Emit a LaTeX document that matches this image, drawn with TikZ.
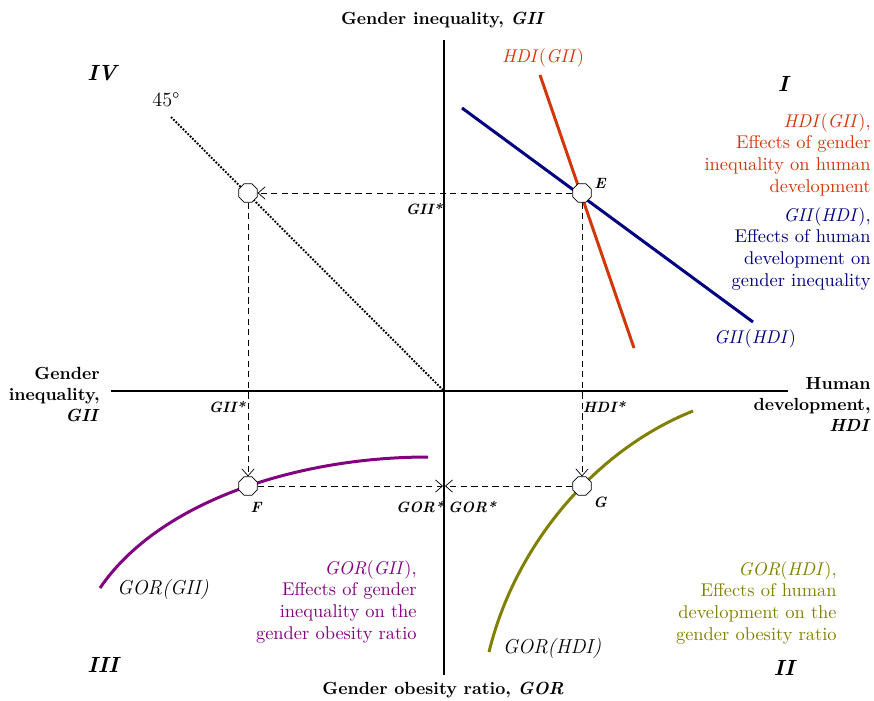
\documentclass[tikz,border=0pt]{standalone}
\usepackage{tikz}
\usetikzlibrary{shapes.geometric,arrows.meta}
\definecolor{hdired}{RGB}{210,55,10}
\definecolor{giiblue}{RGB}{0,0,128}
\definecolor{gorpurple}{RGB}{128,0,128}
\definecolor{gorolive}{RGB}{128,128,0}

\begin{document}
\begin{tikzpicture}[x=0.02cm,y=-0.02cm,font=\fontsize{10.5}{12.3}\selectfont,
	eqpt/.style={draw,fill=white,regular polygon,regular polygon sides=8,minimum size=0.4cm,inner sep=0pt},
	guide/.style={dash pattern=on 3.5pt off 2.5pt,-{Straight Barb[length=4pt,width=7pt]}},
	axisline/.style={line width=1.4pt},
	curveline/.style={line width=1.7pt},
	starlbl/.style={font=\fontsize{8.5}{10}\selectfont\bfseries\itshape},
	quadlbl/.style={font=\fontsize{12.5}{14}\selectfont\bfseries\itshape},
	note/.style={align=right,anchor=north east,inner sep=0pt}]
	\useasboundingbox (0,0) rectangle (874,700);
	% axes
	\draw[axisline] (444,40) -- (444,675);
	\draw[axisline] (111,391) -- (788,391);
	\node[font=\bfseries] (ytop) at (443,20) {Gender inequality, \textit{GII}};
	\node[font=\bfseries] (ybot) at (443,690) {Gender obesity ratio, \textit{GOR}};
	\node[font=\bfseries,note] (xleft) at (100,367) {Gender\\inequality,\\\textit{GII}};
	\node[font=\bfseries,note] (xright) at (871,377) {Human\\development,\\\textit{HDI}};
	% quadrants
	\node[quadlbl] (q4) at (102,73) {IV};
	\node[quadlbl] (q1) at (783,84) {I};
	\node[quadlbl] (q3) at (103,665) {III};
	\node[quadlbl] (q2) at (784,668) {II};
	% curves
	\draw[line width=1.1pt,dash pattern=on 1pt off 0.9pt] (171,117) -- (444,391);
	\node[font=\fontsize{11.5}{13}\selectfont] (deg) at (166,100) {45\textdegree};
	\draw[curveline,hdired] (540,75) -- (634,348);
	\draw[curveline,giiblue] (462,108) -- (753,322);
	\draw[curveline,gorpurple] (100,588) .. controls (160,500) and (300,457) .. (428,457);
	\draw[curveline,gorolive] (489,652) .. controls (515,545) and (595,450) .. (693,411);
	\node[hdired] (hdiname) at (543,58) {\textit{HDI}(\textit{GII})};
	\node[giiblue] (giiname) at (755,339) {\textit{GII}(\textit{HDI})};
	\node[font=\fontsize{11.5}{13}\selectfont] (gorgii) at (163,589) {\textit{GOR(GII)}};
	\node[font=\fontsize{11.5}{13}\selectfont] (gorhdi) at (552,648) {\textit{GOR(HDI)}};
	% notes
	\node[note,hdired] (redtxt) at (871,113) {\textit{HDI}(\textit{GII}),\\Effects of gender\\inequality on human\\development};
	\node[note,giiblue] (bluetxt) at (871,207) {\textit{GII}(\textit{HDI}),\\Effects of human\\development on\\gender inequality};
	\node[note,gorpurple] (purpletxt) at (417,560) {\textit{GOR}(\textit{GII}),\\Effects of gender\\inequality on the\\gender obesity ratio};
	\node[note,gorolive] (olivetxt) at (837,561) {\textit{GOR}(\textit{HDI}),\\Effects of human\\development on the\\gender obesity ratio};
	% points
	\node[eqpt] (E) at (582,193) {};
	\node[eqpt] (P) at (248,193) {};
	\node[eqpt] (F) at (248,486) {};
	\node[eqpt] (G) at (582,486) {};
	\coordinate (gorL) at (443,486);
	\coordinate (gorR) at (445,486);
	\draw[guide] (E) -- (P);
	\draw[guide] (P) -- (F);
	\draw[guide] (E) -- (G);
	\draw[guide] (F) -- (gorL);
	\draw[guide] (G) -- (gorR);
	\node[starlbl] (Elbl) at (600,183) {E};
	\node[starlbl] (Flbl) at (256,507) {F};
	\node[starlbl] (Glbl) at (600,502) {G};
	\node[starlbl] (gii1) at (424,209) {GII*};
	\node[starlbl] (gii2) at (227,407) {GII*};
	\node[starlbl] (hdis) at (604,407) {HDI*};
	\node[starlbl] (gor1) at (420,507) {GOR*};
	\node[starlbl] (gor2) at (472,507) {GOR*};
\end{tikzpicture}
\end{document}
